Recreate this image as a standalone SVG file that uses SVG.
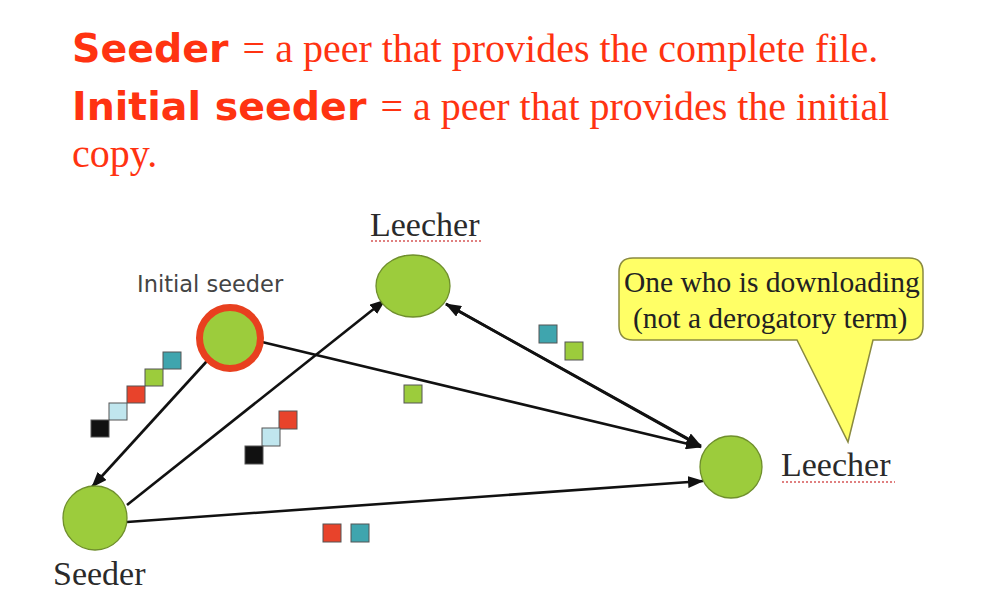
<svg xmlns="http://www.w3.org/2000/svg" width="999" height="591" viewBox="0 0 999 591">
<style>
.hb{font-family:"DejaVu Sans",sans-serif;font-weight:bold;font-size:39.5px;fill:#ff3311}
.hs{font-family:"Liberation Serif",serif;font-size:40px;fill:#ff3311}
.lbl{font-family:"Liberation Serif",serif;font-size:34px;fill:#2a2a2a}
.isl{font-family:"DejaVu Sans",sans-serif;font-size:22.5px;fill:#444}
.cl{font-family:"Liberation Serif",serif;font-size:29.5px;fill:#222}
.peer{fill:#9ccc3c;stroke:#6f8f2c;stroke-width:1.3}
.edge{stroke:#111;stroke-width:2.6;fill:none;marker-end:url(#ah)}
.sq{stroke:#555;stroke-width:1}
.ul{stroke:#e08080;stroke-width:2;stroke-dasharray:2 2}
</style>
<defs>
<marker id="ah" markerUnits="userSpaceOnUse" markerWidth="16" markerHeight="12" viewBox="0 0 16 12" refX="15" refY="6" orient="auto">
<path d="M0,0 L16,6 L0,12 Z" fill="#111"/>
</marker>
</defs>
<rect width="999" height="591" fill="#fff"/>
<g id="header">
<text x="72" y="62"><tspan class="hb">Seeder</tspan><tspan class="hs" dx="14">= a peer that provides the complete file.</tspan></text>
<text x="72" y="120"><tspan class="hb">Initial seeder</tspan><tspan class="hs" dx="14">= a peer that provides the initial</tspan></text>
<text x="72" y="167" class="hs">copy.</text>
</g>
<g id="connectors">
<line class="edge" x1="207" y1="361" x2="92" y2="487"/>
<line class="edge" x1="127" y1="505" x2="385" y2="300"/>
<line class="edge" x1="262" y1="342" x2="701" y2="447"/>
<line class="edge" x1="700" y1="446" x2="446" y2="304"/>
<line class="edge" x1="446" y1="304" x2="701" y2="446"/>
<line class="edge" x1="127" y1="522" x2="703" y2="481"/>
</g>
<g id="pieces">
<rect class="sq" x="163" y="352" width="18" height="17" fill="#3fa5ae"/>
<rect class="sq" x="145" y="369" width="18" height="17" fill="#9ccc3c"/>
<rect class="sq" x="127" y="386" width="18" height="17" fill="#e8432b"/>
<rect class="sq" x="109" y="403" width="18" height="17" fill="#c0e6ee"/>
<rect class="sq" x="91" y="420" width="18" height="17" fill="#111"/>
<rect class="sq" x="279" y="411" width="18" height="18" fill="#e8432b"/>
<rect class="sq" x="262" y="428" width="18" height="18" fill="#c0e6ee"/>
<rect class="sq" x="245" y="446" width="18" height="18" fill="#111"/>
<rect class="sq" x="539" y="325" width="18" height="18" fill="#3fa5ae"/>
<rect class="sq" x="565" y="342" width="18" height="18" fill="#9ccc3c"/>
<rect class="sq" x="404" y="385" width="18" height="18" fill="#9ccc3c"/>
<rect class="sq" x="323" y="524" width="18" height="18" fill="#e8432b"/>
<rect class="sq" x="351" y="524" width="18" height="18" fill="#3fa5ae"/>
</g>
<g id="initial-seeder">
<circle cx="230" cy="338" r="30.5" fill="#9ccc3c" stroke="#e8401f" stroke-width="7"/>
<text class="isl" x="137" y="292">Initial seeder</text>
</g>
<g id="leecher-top">
<ellipse class="peer" cx="413" cy="286" rx="37" ry="31"/>
<text class="lbl" x="370" y="236">Leecher</text>
<line class="ul" x1="371" y1="241" x2="482" y2="241"/>
</g>
<g id="leecher-right">
<circle class="peer" cx="731" cy="467" r="31"/>
<text class="lbl" x="781" y="476">Leecher</text>
<line class="ul" x1="782" y1="482" x2="895" y2="482"/>
</g>
<g id="seeder">
<circle class="peer" cx="95" cy="518" r="32"/>
<text class="lbl" x="53" y="585">Seeder</text>
</g>
<g id="callout">
<path d="M633,258 H909 Q923,258 923,272 V326 Q923,340 909,340 H873 L848,442 L797,340 H633 Q619,340 619,326 V272 Q619,258 633,258 Z" fill="#ffff66" stroke="#8a8a40" stroke-width="1.5"/>
<text class="cl" x="624" y="292">One who is downloading</text>
<text class="cl" x="633" y="328">(not a derogatory term)</text>
</g>
</svg>
